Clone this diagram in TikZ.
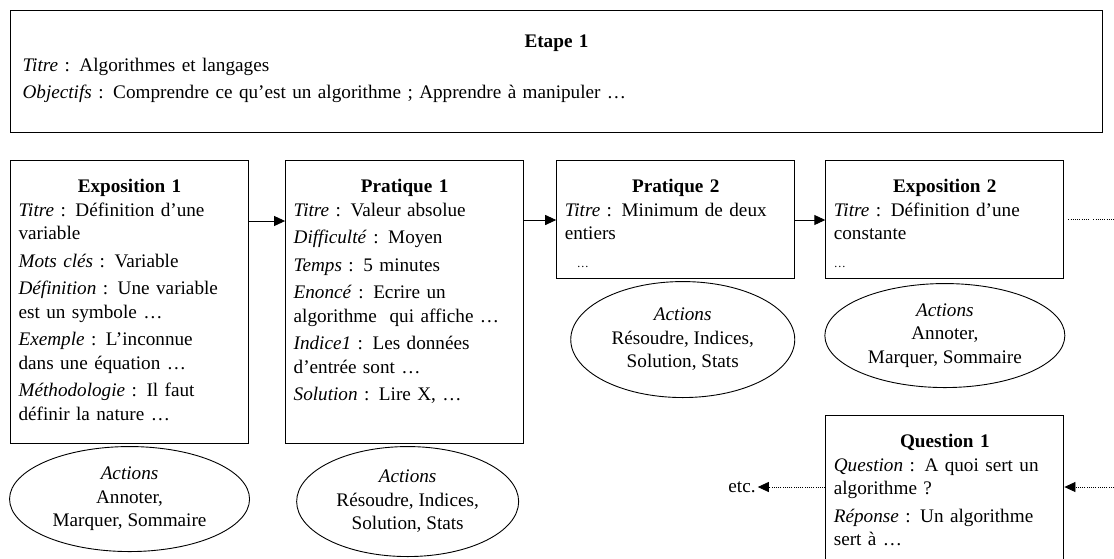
\documentclass[tikz,border=0pt]{standalone}
\usepackage{fontspec}
\setmainfont{Liberation Serif}
\usepackage{tikz}
\usetikzlibrary{positioning,arrows.meta,calc,shapes.geometric}
\tikzset{
    base/.style={font=\fontsize{19.2}{23.5}\selectfont},
    stage/.style={base, rectangle, draw=black, line width=1.1pt, align=left,
                  text width=1068pt, inner xsep=12pt, inner ysep=0pt,
                  text height=37pt, text depth=85pt},
    card/.style={base, rectangle, draw=black, line width=1.1pt, align=left,
                 text width=222pt, inner xsep=8pt, inner ysep=0pt, text height=32pt},
    actions/.style={base, ellipse, draw=black, line width=0.9pt, align=center, inner sep=0pt},
    next/.style={-{Triangle[length=11pt,width=10pt]}, line width=0.9pt},
    trail/.style={line width=0.8pt, dash pattern=on 1pt off 1.2pt}
}
\newcommand{\cardhead}[1]{\makebox[\linewidth]{\bfseries #1}}

\begin{document}
\begin{tikzpicture}[x=1pt, y=-1pt]
  \useasboundingbox (0,0) rectangle (1114,558);
  \clip (0,0) rectangle (1114,558);

  \node[stage, anchor=north west] (etape) at (10,10) {\cardhead{Etape 1}\\
    \textit{Titre} : Algorithmes et langages\\[3.5pt]
    \textit{Objectifs} : Comprendre ce qu’est un algorithme ; Apprendre à manipuler …};

  \node[card, text depth=251pt, anchor=north west] (exp1) at (10,160) {\cardhead{Exposition 1}\\
    \textit{Titre} : Définition d’une\\
    variable\\[4pt]
    \textit{Mots clés} : Variable\\[4pt]
    \textit{Définition} : Une variable\\
    est un symbole …\\[4pt]
    \textit{Exemple} : L’inconnue\\
    dans une équation …\\[4pt]
    \textit{Méthodologie} : Il faut\\
    définir la nature …};
  \node[card, text depth=251pt] (prat1) [right=36pt of exp1] {\cardhead{Pratique 1}\\
    \textit{Titre} : Valeur absolue\\[4pt]
    \textit{Difficulté} : Moyen\\[4pt]
    \textit{Temps} : 5 minutes\\[4pt]
    \textit{Enoncé} : Ecrire un\\
    algorithme\ \ qui affiche …\\[4pt]
    \textit{Indice1} : Les données\\
    d’entrée sont …\\[4pt]
    \textit{Solution} : Lire X, …};
  \node[card, text depth=86pt] (prat2) [below right=0pt and 32pt of prat1.north east] {\cardhead{Pratique 2}\\
    \textit{Titre} : Minimum de deux\\
    entiers\\[4pt]
    \hspace{12pt}{\fontsize{12}{12}\selectfont …}};
  \node[card, text depth=86pt] (exp2) [below right=0pt and 30pt of prat2.north east] {\cardhead{Exposition 2}\\
    \textit{Titre} : Définition d’une\\
    constante\\[4pt]
    {\fontsize{12}{12}\selectfont …}};
  \node[card, text depth=130pt] (q1) [below=136pt of exp2] {\cardhead{Question 1}\\
    \textit{Question} : A quoi sert un\\
    algorithme ?\\[4pt]
    \textit{Réponse} : Un algorithme\\
    sert à …};

  \node[actions, minimum width=240pt, minimum height=105pt] (act1) [below=2pt of exp1] {\textit{Actions}\\Annoter,\\Marquer, Sommaire};
  \node[actions, minimum width=222pt, minimum height=110pt, xshift=3pt] (act2) [below=2pt of prat1] {\textit{Actions}\\Résoudre, Indices,\\Solution, Stats};
  \node[actions, minimum width=224pt, minimum height=116pt, xshift=7pt] (act3) [below=2pt of prat2] {\textit{Actions}\\Résoudre, Indices,\\Solution, Stats};
  \node[actions, minimum width=240pt, minimum height=104pt] (act4) [below=4pt of exp2] {\textit{Actions}\\Annoter,\\Marquer, Sommaire};

  \node[base, inner sep=2pt] (etc) at (742,487) {etc.};
  \coordinate (qin) at (1114,487);

  \draw[next] ([yshift=-61pt]exp1.north east) -- ([yshift=-61pt]prat1.north west);
  \draw[next] ([yshift=-60pt]prat1.north east) -- ([yshift=-60pt]prat2.north west);
  \draw[next] ([yshift=-60pt]prat2.north east) -- ([yshift=-60pt]exp2.north west);
  \draw[trail] ([xshift=4pt]exp2.east) -- ([xshift=25pt]exp2.east)
               ([xshift=29pt]exp2.east) -- ([xshift=52pt]exp2.east);
  \draw[next, trail] (qin) -- (qin -| q1.east);
  \draw[next, trail] (qin -| q1.west) -- (etc);
\end{tikzpicture}
\end{document}
